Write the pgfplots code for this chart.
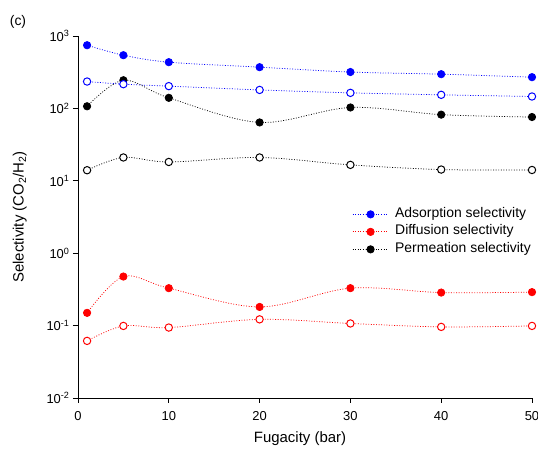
\documentclass[border=0pt]{standalone}
\usepackage{fontspec}
\setmainfont{Liberation Sans}
\usepackage{pgfplots}
\pgfplotsset{compat=1.18}

\pgfplotsset{
  sel/.style={smooth, tension=0.55, line width=0.75pt,
    dash pattern=on 0.9pt off 1.7pt,
    mark=*, mark size=3.7pt,
    mark options={solid, line width=0.9pt}},
  filled/.style={sel, color=#1, mark options={solid, fill=#1, draw=#1}},
  open/.style={sel, color=#1, mark options={solid, fill=white, draw=#1, line width=1pt}},
}

\begin{document}
\begin{tikzpicture}[font=\fontsize{14}{16}\selectfont]
\path[use as bounding box] (-78bp,-57bp) rectangle (460bp,398bp);
\begin{axis}[
  at={(0,0)}, anchor=south west,
  scale only axis, width=454bp, height=362bp,
  ymode=log, xmin=0, xmax=50, ymin=0.01, ymax=1000,
  axis lines*=left, axis line style={-, line width=0.8pt},
  tick align=outside, major tick length=5bp,
  tick style={black, line width=0.8pt},
  xtick={0,10,...,50},
  ytick={0.01,0.1,1,10,100,1000},
  yticklabels={10\textsuperscript{-2},10\textsuperscript{-1},10\textsuperscript{0},10\textsuperscript{1},10\textsuperscript{2},10\textsuperscript{3}},
  yminorticks=false, xminorticks=false,
  /pgf/number format/assume math mode=true,
  tick label style={font=\fontsize{13}{15}\selectfont},
  xticklabel style={yshift=-5bp},
  xlabel={Fugacity (bar)},
  ylabel={Selectivity (CO\textsubscript{2}/H\textsubscript{2})},
  xlabel style={at={(axis description cs:0.489,-0.112)}, anchor=center, font=\fontsize{15}{17}\selectfont},
  ylabel style={at={(axis description cs:-0.128,0.5)}, anchor=center, rotate=0, font=\fontsize{15}{17}\selectfont},
  clip=false,
  legend style={at={(axis description cs:0.6035,0.532)}, anchor=north west,
    draw=none, fill=none, font=\fontsize{14}{16}\selectfont,
    inner sep=0pt, row sep=0pt,
    nodes={inner sep=1.25bp, text height=10.5bp, text depth=4.5bp},
    /tikz/every odd column/.append style={column sep=7bp}},
  legend cell align=left,
  legend image code/.code={
    \draw[#1, mark repeat=2, mark phase=2]
      plot coordinates {(0bp,0bp) (18bp,0bp) (34bp,0bp)};},
]
% adsorption selectivity
\addplot[filled=blue] coordinates {
  (1,746) (5,543) (10,435) (20,371) (30,318) (40,297) (50,270)};
\addlegendentry{Adsorption selectivity}
% diffusion selectivity
\addplot[filled=red] coordinates {
  (1,0.150) (5,0.476) (10,0.329) (20,0.181) (30,0.329) (40,0.286) (50,0.290)};
\addlegendentry{Diffusion selectivity}
% permeation selectivity
\addplot[filled=black] coordinates {
  (1,107) (5,245) (10,140) (20,64) (30,103) (40,82) (50,76)};
\addlegendentry{Permeation selectivity}
% second set, open symbols
\addplot[open=blue, forget plot] coordinates {
  (1,235) (5,216) (10,203) (20,180) (30,164) (40,154) (50,146)};
\addplot[open=red, forget plot] coordinates {
  (1,0.0615) (5,0.099) (10,0.094) (20,0.122) (30,0.107) (40,0.096) (50,0.099)};
\addplot[open=black, forget plot] coordinates {
  (1,14.0) (5,21.0) (10,18.2) (20,21.0) (30,16.6) (40,14.3) (50,14.1)};
\end{axis}
\node at (-60bp,376bp) {(c)};
\end{tikzpicture}
\end{document}
